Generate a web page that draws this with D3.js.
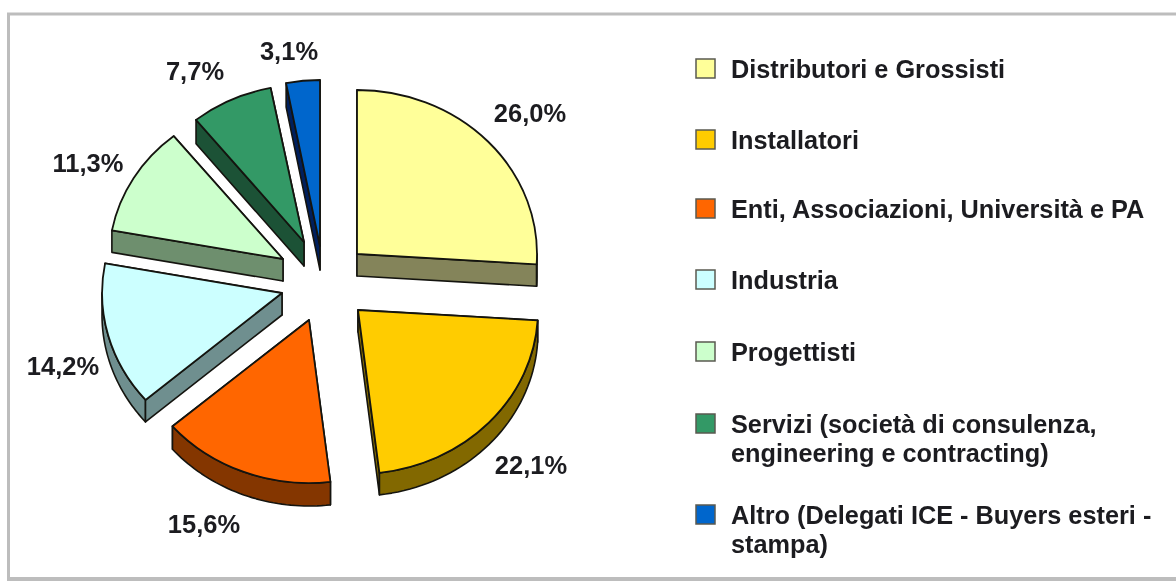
<!DOCTYPE html>
<html><head><meta charset="utf-8">
<script src="https://cdn.jsdelivr.net/npm/d3@7"></script>
<style>
html,body{margin:0;padding:0;background:#fff;overflow:hidden}
svg{display:block;filter:blur(0.55px)}
text{font-family:"Liberation Sans",Arial,sans-serif;font-weight:700;fill:#1c1c20}
</style></head><body>
<svg id="c" width="1176" height="581"></svg>
<script>
const categories=["Distributori e Grossisti","Installatori","Enti, Associazioni, Università e PA","Industria","Progettisti","Servizi (società di consulenza,|engineering e contracting)","Altro (Delegati ICE - Buyers esteri -|stampa)"];
const values=[26.0,22.1,15.6,14.2,11.3,7.7,3.1];
const topColors=["#ffff99","#ffcc00","#ff6600","#ccffff","#ccffcc","#339966","#0066cc"];
const sideColors=["#84845a","#826800","#843600","#6f8f8f","#6e8f6e","#1c5236","#001f5c"];
const apexX=[357,358,309,282,283,304,320];
const apexY=[254,310,320,293,259,242,246];
const radiusX=[180,180,180,180,174,172,175];
const radiusY=[164,164,163,164,158,157,166];
const depths=[22,22,23,22,22,24,24];
const labelX=[530,531,204,63,88,195,289];
const labelY=[113,465,524,366,163,71,51];
const legendY=[69,140,209,280,352,424,515];

const svg=d3.select("#c");
const fmt=d3.formatLocale({decimal:",",thousands:".",grouping:[3],currency:["","€"]}).format(".1f");

// frame
svg.append("path").attr("d","M8.5 581V14H1176").attr("fill","none").attr("stroke","#bdbdbd").attr("stroke-width",3);
svg.append("rect").attr("x",8).attr("y",577).attr("width",1168).attr("height",4).attr("fill","#bdbdbd");

const pie=d3.pie().sort(null).value(d=>d)(values);
const arc=d3.arc().innerRadius(0).outerRadius(1);
const line=d3.line();
const stroke="#14140f";

pie.forEach((p,i)=>{
  const g=svg.append("g");
  const cx=apexX[i],cy=apexY[i],rx=radiusX[i],ry=radiusY[i],dp=depths[i];
  const pt=a=>[cx+rx*Math.sin(a),cy-ry*Math.cos(a)];
  const down=q=>[q[0],q[1]+dp];
  const wall=a=>[[cx,cy],pt(a),down(pt(a)),[cx,cy+dp]];
  // the outer band only exists where the rim faces the viewer (90 to 270 degrees)
  const a0=Math.max(p.startAngle,Math.PI/2), a1=Math.min(p.endAngle,Math.PI*1.5);
  const rim=a1>a0?d3.range(0,41).map(k=>pt(a0+(a1-a0)*k/40)):[];
  const band=rim.length?[rim.concat(rim.map(down).reverse())]:[];
  // painter's order: the wall hidden behind the face first, the wall facing the viewer after it
  const walls=p.startAngle>=Math.PI
    ?[wall(p.endAngle),...band,wall(p.startAngle)]
    :[wall(p.startAngle),wall(p.endAngle),...band];
  g.selectAll("path.wall").data(walls).join("path").attr("class","wall")
    .attr("d",w=>line(w)+"Z").attr("fill",sideColors[i]).attr("stroke",stroke)
    .attr("stroke-width",1.6).attr("stroke-linejoin","round");
  g.append("path").attr("d",arc(p))
    .attr("transform",`translate(${cx},${cy}) scale(${rx},${ry})`)
    .attr("fill",topColors[i]).attr("stroke",stroke)
    .attr("stroke-width",1.8).attr("vector-effect","non-scaling-stroke").attr("stroke-linejoin","round");
});

svg.selectAll("text.val").data(values).join("text").attr("class","val")
  .attr("x",(d,i)=>labelX[i]).attr("y",(d,i)=>labelY[i]).attr("dy","0.36em")
  .attr("text-anchor","middle").attr("font-size",25.5).text(d=>fmt(d)+"%");

const lg=svg.selectAll("g.lg").data(categories).join("g").attr("class","lg")
  .attr("transform",(d,i)=>`translate(0,${legendY[i]})`);
lg.append("rect").attr("x",696).attr("y",-10).attr("width",19).attr("height",19)
  .attr("fill",(d,i)=>topColors[i]).attr("stroke","#5a5a50").attr("stroke-width",1.5);
lg.each(function(d){
  const t=d3.select(this).append("text").attr("font-size",25.3);
  d.split("|").forEach((s,j)=>t.append("tspan").attr("x",731).attr("y",j*29).attr("dy","0.36em").text(s));
});
</script></body></html>
